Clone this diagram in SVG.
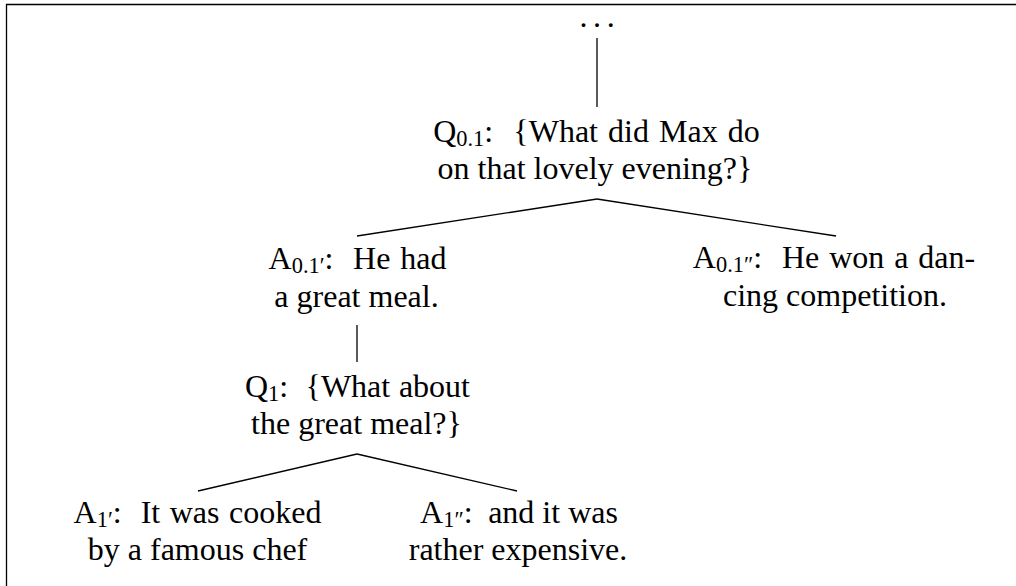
<svg xmlns="http://www.w3.org/2000/svg" width="1016" height="586" viewBox="0 0 1016 586">
<style>
.t{font-family:"Liberation Serif","Times New Roman",serif;font-size:32px;fill:#000;text-anchor:middle}
.sub{font-size:22.4px}
.c{stroke:#000;stroke-width:1.3;fill:none}
</style>
<rect x="0" y="0" width="1016" height="586" fill="#fff"/>
<path class="c" d="M6.5 586 V4.5 H1016"/>
<g id="connectors">
<line class="c" x1="597" y1="38" x2="597" y2="107"/>
<line class="c" x1="597" y1="199" x2="357" y2="236"/>
<line class="c" x1="597" y1="199" x2="836" y2="236"/>
<line class="c" x1="357" y1="325" x2="357" y2="362"/>
<line class="c" x1="357" y1="454" x2="198" y2="491"/>
<line class="c" x1="357" y1="454" x2="517" y2="491"/>
</g>
<g id="root">
<text class="t" x="596.5" y="27" letter-spacing="-1.2">. . .</text>
</g>
<g id="q01">
<text class="t" x="596.5" y="142" word-spacing="2.1">Q<tspan class="sub" dy="4">0.1</tspan><tspan dy="-4">:</tspan><tspan dx="10.1"> {What did Max do</tspan></text>
<text class="t" x="595" y="179">on that lovely evening?}</text>
</g>
<g id="a01p">
<text class="t" x="357.5" y="269" word-spacing="1.8">A<tspan class="sub" dy="4">0.1′</tspan><tspan dy="-4">:</tspan><tspan dx="9.8"> He had</tspan></text>
<text class="t" x="356.5" y="307">a great meal.</text>
</g>
<g id="a01pp">
<text class="t" x="834" y="268" word-spacing="1.9">A<tspan class="sub" dy="4">0.1″</tspan><tspan dy="-4">:</tspan><tspan dx="9.9"> He won a dan-</tspan></text>
<text class="t" x="835" y="306">cing competition.</text>
</g>
<g id="q1">
<text class="t" x="357.5" y="397" word-spacing="0.7">Q<tspan class="sub" dy="4">1</tspan><tspan dy="-4">:</tspan><tspan dx="8.7"> {What about</tspan></text>
<text class="t" x="356.5" y="434">the great meal?}</text>
</g>
<g id="a1p">
<text class="t" x="197.5" y="523" word-spacing="1.5">A<tspan class="sub" dy="4">1′</tspan><tspan dy="-4">:</tspan><tspan dx="9.5"> It was cooked</tspan></text>
<text class="t" x="197.5" y="560">by a famous chef</text>
</g>
<g id="a1pp">
<text class="t" x="519" y="523">A<tspan class="sub" dy="4">1″</tspan><tspan dy="-4">:</tspan><tspan dx="7.5"> and it was</tspan></text>
<text class="t" x="518" y="560">rather expensive.</text>
</g>
</svg>
